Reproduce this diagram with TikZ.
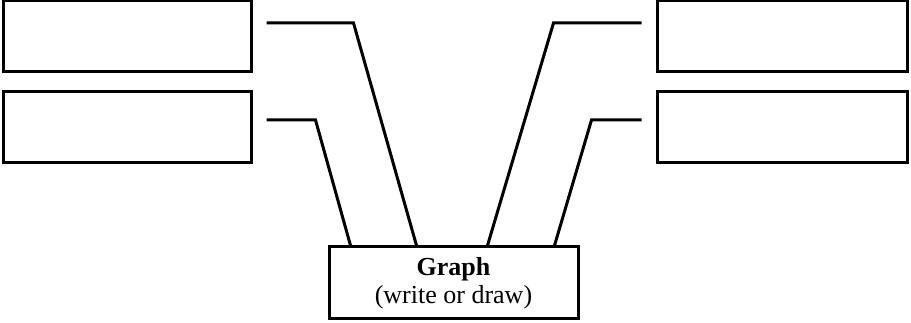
\documentclass[tikz,border=0pt]{standalone}
\usepackage{fontspec}
\setmainfont{Liberation Serif}
\begin{document}
\begin{tikzpicture}[x=1pt,y=-1pt,line width=3pt,
  answer/.style={draw,minimum height=71pt,inner sep=0pt},
  link/.style={line join=miter}]
\useasboundingbox (0,0) rectangle (911,323);
\node[answer,minimum width=248pt] (l1) at (127,36.5) {};
\node[answer,minimum width=248pt] (l2) at (127,127.5) {};
\node[answer,minimum width=250pt] (r1) at (782,36.5) {};
\node[answer,minimum width=250pt] (r2) at (782,127.5) {};
\node[draw,minimum width=249pt,minimum height=72pt,align=center,inner sep=0pt,
  font=\fontsize{26}{28}\selectfont] (graph) at (453.5,283)
  {\textbf{Graph}\\(write or draw)};
% where the lines meet the graph box
\coordinate (g1) at ([xshift=23pt]graph.north west);
\coordinate (g2) at ([xshift=89pt]graph.north west);
\coordinate (g3) at ([xshift=160pt]graph.north west);
\coordinate (g4) at ([xshift=227pt]graph.north west);
\draw[link] ([shift={(14,-13.5)}]l1.east)--++(87,0)--(g2);
\draw[link] ([shift={(14,-7.5)}]l2.east)--++(49,0)--(g1);
\draw[link] ([shift={(-14,-13.5)}]r1.west)--++(-88,0)--(g3);
\draw[link] ([shift={(-14,-7.5)}]r2.west)--++(-50,0)--(g4);
\end{tikzpicture}
\end{document}
